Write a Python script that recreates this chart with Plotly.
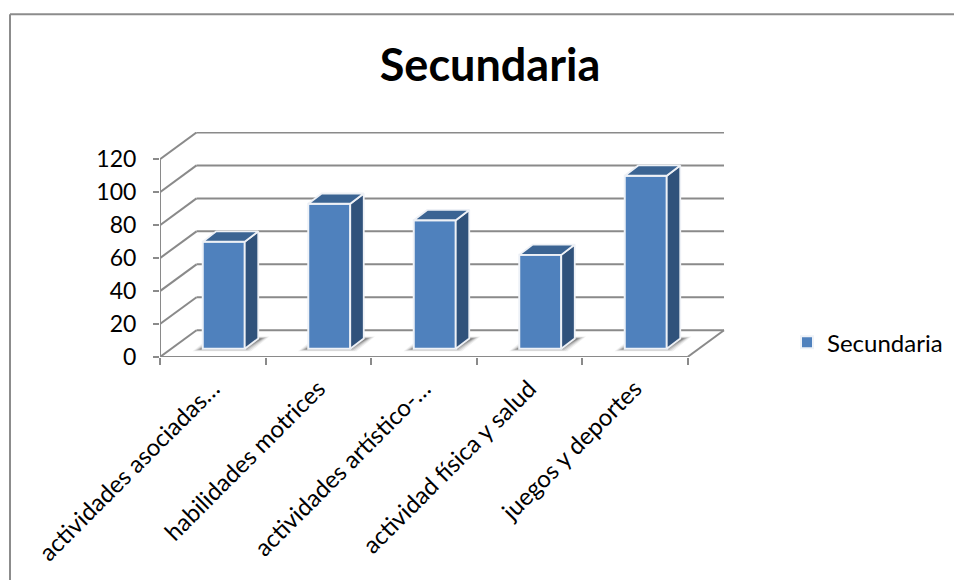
import plotly.graph_objects as go

categories = ["actividades asociadas…", "habilidades motrices", "actividades artístico-…",
              "actividad física y salud", "juegos y deportes"]
values = [65, 88, 78, 57, 105]
y_ticks = [0, 20, 40, 60, 80, 100, 120]
series_name = "Secundaria"

WIDTH, HEIGHT = 954, 581
LEFT, RIGHT, TOP, BOTTOM = 160.0, 725.0, 132.0, 357.5   # plot area in page pixels
PX_PER_CAT = 105.5
PX_PER_UNIT = 1.652

# oblique projection: one unit of depth moves a point right and up
WALL_DX, WALL_DY = 36.5 / PX_PER_CAT, 26.8 / PX_PER_UNIT
BAR_DX, BAR_DY = 13.5 / PX_PER_CAT, 10.3 / PX_PER_UNIT
FLOOR_DX, FLOOR_DY = 11.0 / PX_PER_CAT, 8.2 / PX_PER_UNIT
BAR_W = 42.0 / PX_PER_CAT

x_min = -0.5
x_end = x_min + len(categories)
x_max = x_min + (RIGHT - LEFT) / PX_PER_CAT
y_max = (BOTTOM - TOP) / PX_PER_UNIT

GRID = "#8a8a8a"
FRONT, TOP_FACE, SIDE = "#4f81bd", "#3b6493", "#30527b"
FONT = "Lato, 'Open Sans', sans-serif"

shapes = []


def line(x0, y0, x1, y1, width=2):
    shapes.append(dict(type="line", xref="x", yref="y", x0=x0, y0=y0, x1=x1, y1=y1,
                       layer="below", line=dict(color=GRID, width=width)))


# back wall gridlines, side wall diagonals and floor edges
for v in y_ticks:
    line(x_min, v, x_min + WALL_DX, v + WALL_DY)
    line(x_min + WALL_DX, v + WALL_DY, x_end + WALL_DX, v + WALL_DY)
line(x_min, 0, x_min, y_ticks[-1])
line(x_min, 0, x_end, 0)
line(x_end, 0, x_end + WALL_DX, WALL_DY)

# soft floor shadows, stacked so the edge fades out
for i in range(len(categories)):
    cx = i + FLOOR_DX
    for k, alpha in zip(range(5), (0.08, 0.12, 0.18, 0.24, 0.32)):
        grow = (4 - k) * 1.8 / PX_PER_CAT
        x0 = cx - BAR_W / 2 - 3 / PX_PER_CAT - grow
        x1 = cx + BAR_W / 2 + BAR_DX + 4 / PX_PER_CAT + grow
        y0 = FLOOR_DY - (2.5 - 0.5 * k) / PX_PER_UNIT
        y1 = FLOOR_DY + BAR_DY + (2.0 - 0.5 * k) / PX_PER_UNIT
        skew = BAR_DX + 5 / PX_PER_CAT
        shapes.append(dict(
            type="path", xref="x", yref="y", layer="below",
            path=f"M{x0},{y0} L{x1 - skew},{y0} L{x1},{y1} L{x0 + skew},{y1} Z",
            fillcolor=f"rgba(70,70,70,{alpha})", line=dict(width=0)))

# chart frame: only the top and left edges reach the page
pw, ph = RIGHT - LEFT, BOTTOM - TOP
fx = lambda px: (px - LEFT) / pw
fy = lambda px: (BOTTOM - px) / ph
for x0, y0, x1, y1 in ((10, 14, WIDTH, 14), (10, 14, 10, HEIGHT)):
    shapes.append(dict(type="line", xref="paper", yref="paper", layer="below",
                       x0=fx(x0), y0=fy(y0), x1=fx(x1), y1=fy(y1),
                       line=dict(color="#8c8c8c", width=2)))

fig = go.Figure()

fig.add_trace(go.Bar(
    x=[i + FLOOR_DX for i in range(len(values))], y=values, base=FLOOR_DY,
    width=BAR_W, name=series_name, showlegend=True,
    marker=dict(color=FRONT, line=dict(color="#eef2f8", width=2)),
))

# side and top faces of each bar
for i, v in enumerate(values):
    xl = i + FLOOR_DX - BAR_W / 2
    xr = i + FLOOR_DX + BAR_W / 2
    yb, yt = FLOOR_DY, FLOOR_DY + v
    fig.add_trace(go.Scatter(
        x=[xr, xr + BAR_DX, xr + BAR_DX, xr, xr],
        y=[yb, yb + BAR_DY, yt + BAR_DY, yt, yb],
        mode="lines", fill="toself", fillcolor=SIDE,
        line=dict(color="#eef1f6", width=1.8), showlegend=False, hoverinfo="skip"))
    fig.add_trace(go.Scatter(
        x=[xl, xr, xr + BAR_DX, xl + BAR_DX, xl],
        y=[yt, yt, yt + BAR_DY, yt + BAR_DY, yt],
        mode="lines", fill="toself", fillcolor=TOP_FACE,
        line=dict(color="#eef1f6", width=1.8), showlegend=False, hoverinfo="skip"))

fig.update_layout(
    width=WIDTH, height=HEIGHT,
    margin=dict(l=LEFT, r=WIDTH - RIGHT, t=TOP, b=HEIGHT - BOTTOM, autoexpand=False),
    paper_bgcolor="white", plot_bgcolor="rgba(0,0,0,0)",
    font=dict(family=FONT, color="#000000"),
    title=dict(text=f"<b>{series_name}</b>", font=dict(family=FONT, size=45),
               x=490 / WIDTH, xanchor="center", y=1 - 65 / HEIGHT, yanchor="middle"),
    shapes=shapes,
    legend=dict(x=fx(787), y=fy(343), xanchor="left", yanchor="middle",
                font=dict(size=24), bgcolor="rgba(0,0,0,0)"),
    xaxis=dict(range=[x_min, x_max], showgrid=False, zeroline=False, showline=False,
               tickmode="array", tickvals=[i for i in range(len(categories))],
               ticktext=categories, tickangle=-45, ticks="", ticklen=0,
               ticklabelstandoff=12, tickfont=dict(size=24),
               minor=dict(tickmode="array", tickvals=[x_min + i for i in range(len(categories) + 1)],
                          ticks="outside", ticklen=7, tickwidth=2, tickcolor=GRID, showgrid=False)),
    yaxis=dict(range=[0, y_max], showgrid=False, zeroline=False, showline=False,
               tickmode="array", tickvals=y_ticks, ticks="outside", ticklen=6, tickwidth=2,
               tickcolor=GRID, tickfont=dict(size=23), ticklabelstandoff=12),
)

fig.write_html("out.html")
